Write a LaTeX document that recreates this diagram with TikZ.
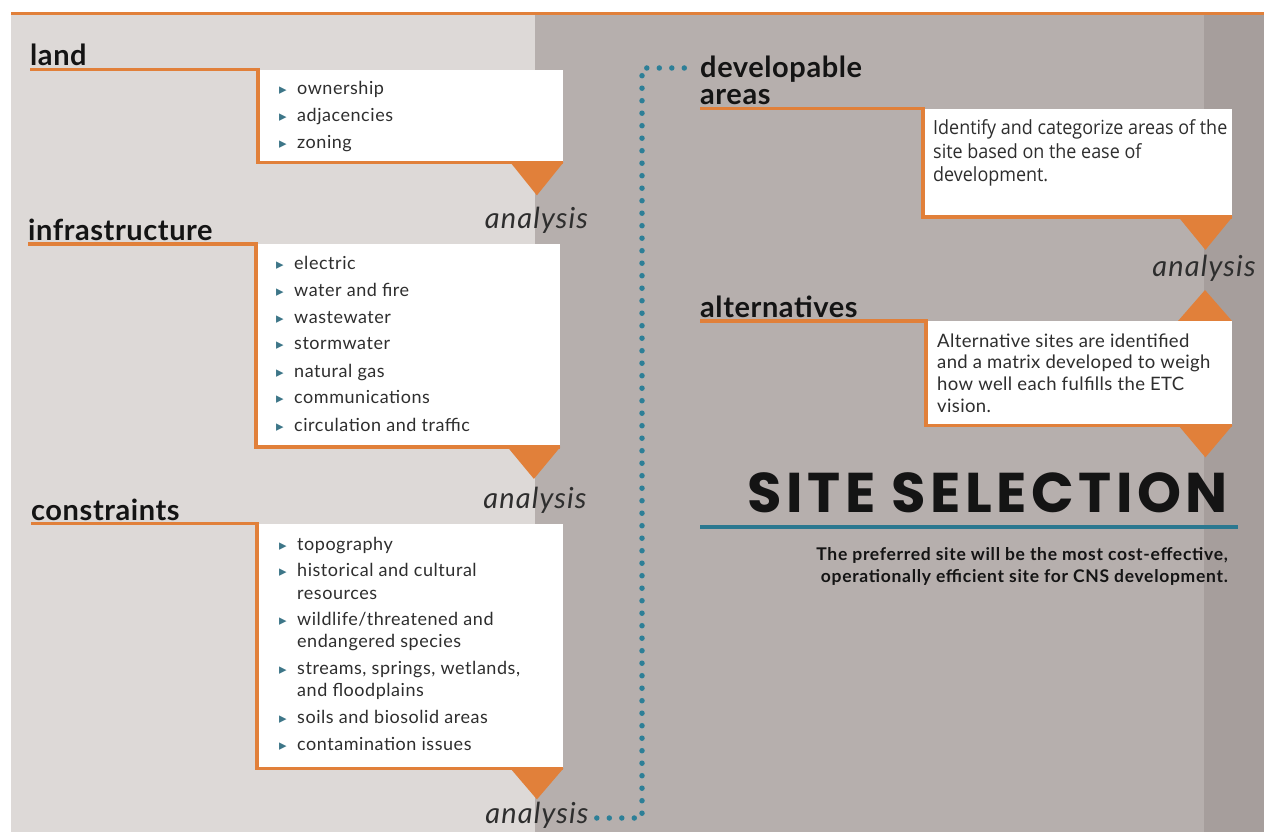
\documentclass[tikz,border=0pt]{standalone}
\usepackage{fontspec}
\setmainfont{Lato}
\newfontfamily\titlefont{Poppins}
\newfontfamily\condfont{Open Sans}[FakeStretch=0.92]
\newfontfamily\symfont{DejaVu Sans}

\definecolor{accent}{HTML}{E1803A}
\definecolor{leftbg}{HTML}{DDD9D7}
\definecolor{rightbg}{HTML}{B6AFAD}
\definecolor{edgebg}{HTML}{A69E9C}
\definecolor{dotc}{HTML}{2D7F97}
\definecolor{tealc}{HTML}{2B7890}
\definecolor{bulc}{HTML}{3D7688}
\definecolor{headc}{HTML}{141414}
\definecolor{itemc}{HTML}{2E2E2E}

% teal arrow-head bullet in front of each list entry
\newcommand{\bul}{\makebox[18pt][l]{\textcolor{bulc}{\symfont\fontsize{15}{15}\selectfont ▸}}}

\begin{document}
\begin{tikzpicture}[x=1pt,y=-1pt,
  head/.style={font=\fontsize{29}{27}\selectfont\bfseries\addfontfeature{LetterSpace=2},
    text=headc, inner sep=0, anchor=base west},
  item/.style={font=\fontsize{18}{18}\selectfont\addfontfeature{LetterSpace=3},
    text=itemc, inner sep=0, anchor=base west},
  desc/.style={font=\condfont\fontsize{19.5}{19.5}\selectfont, text=itemc, inner sep=0, anchor=base west},
  altdesc/.style={font=\fontsize{18.5}{18.5}\selectfont\addfontfeature{LetterSpace=2},
    text=itemc, inner sep=0, anchor=base west},
  ana/.style={font=\fontsize{29}{29}\selectfont\itshape\addfontfeature{LetterSpace=4},
    text=itemc, inner sep=0, anchor=base},
  wbox/.style={fill=white, draw=none, inner sep=0, anchor=north west},
  rule/.style={draw=accent, line width=3.5},
  dots/.style={draw=dotc, line width=5.5, line cap=round, dash pattern=on 0pt off 12.5pt},
  pointer/.style={fill=accent},
  subline/.style={font=\bfseries\fontsize{17.5}{17.5}\selectfont\addfontfeature{LetterSpace=4},
    text=headc, inner sep=0, anchor=base east}]

\useasboundingbox (0,0) rectangle (1264,832);

% backdrop panels
\fill[white] (0,0) rectangle (1264,832);
\fill[leftbg] (11,15) rectangle (535,832);
\fill[rightbg] (535,15) rectangle (1204,832);
\fill[edgebg] (1204,15) rectangle (1264,832);
\fill[accent] (11,12) rectangle (1264,15.5);

% ---------- land ----------
\node[head] (landhead) at (30,66) {land};
\node[wbox, minimum width=305, minimum height=92.5] (landbox) at (258,69.5) {};
\draw[rule] (landbox.north west -| landhead.west) -- (landbox.north west)
  -- (landbox.south west) -- (landbox.south east);
\fill[pointer] (landbox.south east) -- ++(-53,0) -- ++(26.5,33) -- cycle;
\node[item] (land1) at (279,95) {\bul ownership};
\node[item] (land2) at (279,122) {\bul adjacencies};
\node[item] (land3) at (279,149) {\bul zoning};
\node[ana] (an1) at (536.5,228) {analysis};

% ---------- infrastructure ----------
\node[head] (infhead) at (28,240) {infrastructure};
\node[wbox, minimum width=304, minimum height=202.5] (infbox) at (256,244) {};
\draw[rule] (infbox.north west -| infhead.west) -- (infbox.north west)
  -- (infbox.south west) -- (infbox.south east);
\fill[pointer] (infbox.south east) -- ++(-53,0) -- ++(26.5,32) -- cycle;
\node[item] (inf1) at (276,269) {\bul electric};
\node[item] (inf2) at (276,296) {\bul water and fire};
\node[item] (inf3) at (276,323) {\bul wastewater};
\node[item] (inf4) at (276,349) {\bul stormwater};
\node[item] (inf5) at (276,377) {\bul natural gas};
\node[item] (inf6) at (276,403) {\bul communications};
\node[item] (inf7) at (276,431) {\bul circulation and traffic};
\node[ana] (an2) at (535,508) {analysis};

% ---------- constraints ----------
\node[head] (conhead) at (31,520) {constraints};
\node[wbox, minimum width=306, minimum height=244.5] (conbox) at (257,523.5) {};
\draw[rule] (conbox.north west -| conhead.west) -- (conbox.north west)
  -- (conbox.south west) -- (conbox.south east);
\fill[pointer] (conbox.south east) -- ++(-53,0) -- ++(26.5,31) -- cycle;
\node[item] (con1) at (279,550) {\bul topography};
\node[item] (con2) at (279,576) {\bul historical and cultural};
\node[item] (con2b) at (297,599) {resources};
\node[item] (con3) at (279,625) {\bul wildlife/threatened and};
\node[item] (con3b) at (297,647) {endangered species};
\node[item] (con4) at (279,674) {\bul streams, springs, wetlands,};
\node[item] (con4b) at (297,696) {and floodplains};
\node[item] (con5) at (279,723) {\bul soils and biosolid areas};
\node[item] (con6) at (279,750) {\bul contamination issues};
\node[ana] (an3) at (537,823) {analysis};

% ---------- developable areas (two-line heading, anchored on its last line) ----------
\node[head, align=left] (devhead) at (700,104.5) {developable\\areas};
\node[wbox, minimum width=309, minimum height=108] (devbox) at (923,108.5) {};
\draw[rule] (devbox.north west -| devhead.west) -- (devbox.north west)
  -- (devbox.south west) -- (devbox.south east);
\fill[pointer] (devbox.south east) -- ++(-54,0) -- ++(27,33) -- cycle;
\node[desc] (dev1) at (933,135) {Identify and categorize areas of the};
\node[desc] (dev2) at (933,158) {site based on the ease of};
\node[desc] (dev3) at (933,182) {development.};
\node[ana] (an4) at (1204,276) {analysis};

% ---------- alternatives ----------
\node[head] (althead) at (700,317) {alternatives};
\fill[pointer] (1232,321) -- ++(-54,0) -- ++(27,-31) -- cycle;
\node[wbox, minimum width=306, minimum height=104] (altbox) at (926,321) {};
\draw[rule] (altbox.north west -| althead.west) -- (altbox.north west)
  -- (altbox.south west) -- (altbox.south east);
\fill[pointer] (altbox.south east) -- ++(-54,0) -- ++(27,32) -- cycle;
\node[altdesc] (alt1) at (937,347) {Alternative sites are identified};
\node[altdesc] (alt2) at (937,368) {and a matrix developed to weigh};
\node[altdesc] (alt3) at (937,390) {how well each fulfills the ETC};
\node[altdesc] (alt4) at (937,412) {vision.};

% ---------- site selection ----------
\node[font=\titlefont\bfseries\fontsize{56}{56}\selectfont\addfontfeature{LetterSpace=8},
  text=headc, inner sep=0, anchor=base east] (site) at (1228,512) {SITE SELECTION};
\draw[draw=tealc, line width=4] (700,527) -- (1238,527);
\node[subline] (sub1) at (1228,560) {The preferred site will be the most cost-effective,};
\node[subline] (sub2) at (1228,582) {operationally efficient site for CNS development.};

% dotted link from the last analysis up to developable areas
\coordinate (dotb) at (642,818);
\coordinate (dott) at (642,68);
\draw[dots] ([shift={(8,-5)}]an3.base east) -- (dotb) -- (dott)
  -- ([shift={(-8,-36.5)}]devhead.base west);

\end{tikzpicture}
\end{document}
